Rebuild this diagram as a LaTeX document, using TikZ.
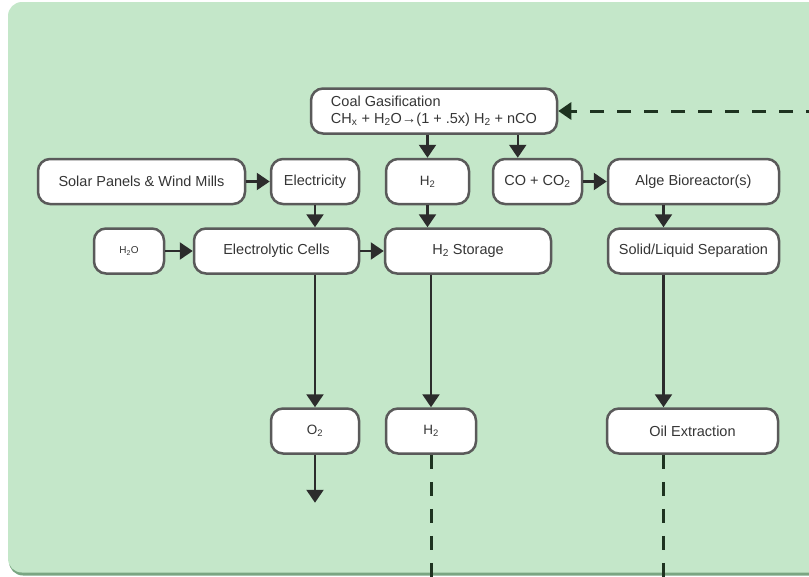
\documentclass[tikz,border=0pt]{standalone}
\usepackage{fontspec}
\setmainfont{Liberation Sans}
\definecolor{panel green}{HTML}{C4E7C9}
\definecolor{panel shadow}{HTML}{7AA682}
\definecolor{box grey}{HTML}{5A5A5A}
\definecolor{text grey}{HTML}{353535}
\definecolor{arrow grey}{HTML}{2C2C2C}
\definecolor{dash green}{HTML}{1E3320}
\usetikzlibrary{calc,positioning,arrows.meta}
\tikzstyle{line} = [line width=2.3pt, draw=arrow grey]
\tikzstyle{line>} = [line,-{Triangle[length=13pt, width=17pt]}]
\tikzstyle{dash line} = [line width=3pt, draw=dash green, dash pattern=on 14pt off 13pt]
\tikzstyle{dash line>} = [dash line,-{Triangle[length=13pt, width=17pt]}]
\tikzstyle{process node} = [draw=box grey, line width=2.5pt, fill=white, rounded corners=12pt, minimum height=45pt, inner sep=2pt, text=text grey, font=\fontsize{14.5}{17}\selectfont]
\tikzstyle{small node} = [process node, font=\fontsize{13.5}{15}\selectfont]

\begin{document}
\begin{tikzpicture}[x=1pt,y=-1pt]
        \useasboundingbox (0,0) rectangle (809,576);
        % green panel
        \fill[panel shadow, rounded corners=14pt] (9,5) rectangle (840,575.5);
        \fill[panel green, rounded corners=14pt] (8,2) rectangle (840,572.5);

        \node[process node, minimum width=246pt, align=left] (coal) at (434,111)
            {Coal Gasification\\CH\textsubscript{x} + H\textsubscript{2}O→(1 + .5x) H\textsubscript{2} + nCO};

        \node[process node, minimum width=207pt] (solar) at (141.5,181.5) {Solar Panels \& Wind Mills};
        \node[process node, minimum width=88pt] (electricity) at (315,181.5) {Electricity};
        \node[small node, minimum width=83pt] (h2top) at (427.5,181.5) {H\textsubscript{2}};
        \node[process node, minimum width=89pt] (co) at (537.5,181.5) {CO + CO\textsubscript{2}};
        \node[process node, minimum width=171pt] (alge) at (693.5,181.5) {Alge Bioreactor(s)};

        \node[process node, minimum width=70pt, font=\fontsize{10}{12}\selectfont] (h2o) at (129,251) {H\textsubscript{2}O};
        \node[process node, minimum width=165pt] (electrolytic) at (276.5,251) {Electrolytic Cells};
        \node[process node, minimum width=166pt] (h2storage) at (468,251) {H\textsubscript{2} Storage};
        \node[process node, minimum width=171pt] (solid) at (693.5,251) {Solid/Liquid Separation};

        \node[small node, minimum width=88pt] (o2) at (315,431) {O\textsubscript{2}};
        \node[small node, minimum width=90pt] (h2bot) at (431,431) {H\textsubscript{2}};
        \node[process node, minimum width=171pt] (oil) at (692.5,431) {Oil Extraction};

        \coordinate (co-in) at ([xshift=26pt]co.north west);
        \coordinate (alge-out) at ([xshift=-30pt]alge.south);
        \coordinate (gas-return) at (820,111);
        \coordinate (o2-out) at ($(o2.south)+(0,48)$);
        \coordinate (h2-out) at ($(h2bot.south)+(0,140)$);
        \coordinate (oil-out) at ($(alge-out |- oil.south)+(0,140)$);

        \draw[line>] (h2top |- coal.south) -- (h2top.north);
        \draw[line>] (co-in |- coal.south) -- (co-in);
        \draw[line>] (solar) -- (electricity);
        \draw[line>] (co) -- (alge);
        \draw[line>] (electricity) -- (electricity |- electrolytic.north);
        \draw[line>] (h2top) -- (h2top |- h2storage.north);
        \draw[line>] (alge-out) -- (alge-out |- solid.north);
        \draw[line>] (h2o) -- (electrolytic);
        \draw[line>] (electrolytic) -- (h2storage);
        \draw[line>] (o2 |- electrolytic.south) -- (o2.north);
        \draw[line>] (h2bot |- h2storage.south) -- (h2bot.north);
        \draw[line>] (alge-out |- solid.south) -- (alge-out |- oil.north);
        \draw[line>] (o2) -- (o2-out);

        \draw[dash line] (h2bot.south) -- (h2-out);
        \draw[dash line] (alge-out |- oil.south) -- (oil-out);
        \draw[dash line>] (gas-return) -- (coal.east);

    \end{tikzpicture}
\end{document}
